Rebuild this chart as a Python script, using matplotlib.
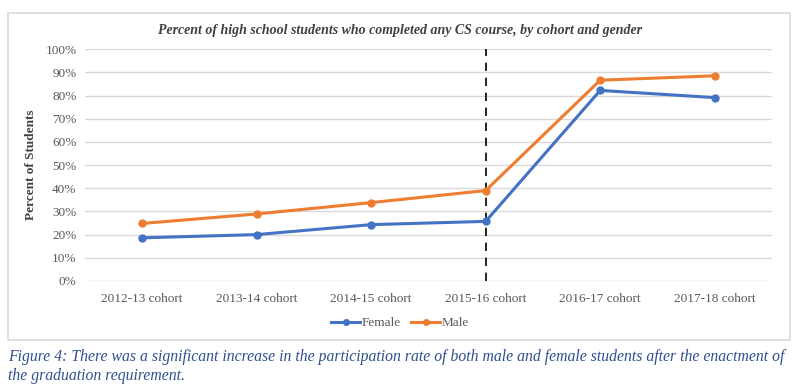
import matplotlib
matplotlib.use("Agg")
import matplotlib.pyplot as plt
from matplotlib.patches import Rectangle
from matplotlib.ticker import PercentFormatter

plt.rcParams['font.family'] = ['Liberation Serif', 'DejaVu Serif']

cohorts = ['2012-13 cohort', '2013-14 cohort', '2014-15 cohort',
           '2015-16 cohort', '2016-17 cohort', '2017-18 cohort']
female = [18.6, 20.0, 24.3, 25.7, 82.2, 79.1]
male = [24.8, 28.9, 33.8, 39.0, 86.6, 88.5]
requirement_cohort = '2015-16 cohort'

fig = plt.figure(figsize=(8, 3.87), dpi=100)

# chart frame like the spreadsheet export
fig.patches.append(Rectangle((0.01, 0.121), 0.9775, 0.845, transform=fig.transFigure,
                             facecolor='white', edgecolor='#D9D9D9', linewidth=1.2, zorder=-10))

ax = fig.add_axes([0.106, 0.274, 0.859, 0.599])
ax.patch.set_alpha(0)
x = list(range(len(cohorts)))
ax.plot(x, female, color='#4472C4', lw=2.2, marker='o', ms=5, label='Female', zorder=3)
ax.plot(x, male, color='#ED7D31', lw=2.2, marker='o', ms=5, label='Male', zorder=3)

xi = cohorts.index(requirement_cohort)
ax.plot([xi, xi], [0, 100], color='black', ls=(0, (5, 4)), lw=1.2, zorder=2)

ax.set_xlim(-0.5, len(cohorts) - 0.5)
ax.set_ylim(0, 100)
ax.set_yticks(range(0, 101, 10))
ax.yaxis.set_major_formatter(PercentFormatter(decimals=0))
ax.set_xticks(x)
ax.set_xticklabels(cohorts)
ax.tick_params(axis='both', length=0, labelsize=9.5, colors='#595959', pad=6)
ax.tick_params(axis='x', pad=9)
ax.grid(axis='y', color='#D9D9D9', lw=1)
ax.set_axisbelow(True)
for s in ax.spines.values():
    s.set_visible(False)

ax.set_ylabel('Percent of Students', fontsize=9.5, fontweight='bold', color='#404040', labelpad=6)

fig.text(0.5, 0.92, 'Percent of high school students who completed any CS course, by cohort and gender',
         ha='center', va='center', fontsize=10, fontweight='bold', style='italic', color='#404040')

fig.legend(loc='center', bbox_to_anchor=(0.5, 0.165), ncol=2, frameon=False,
           fontsize=9.5, handlelength=2.2, handletextpad=0.1, columnspacing=0.8,
           labelcolor='#595959', markerscale=0.8)

fig.text(0.01, 0.077, 'Figure 4: There was a significant increase in the participation rate of both male and female students after the enactment of',
         ha='left', va='center', fontsize=11.3, style='italic', color='#2E4F8F')
fig.text(0.01, 0.028, 'the graduation requirement.',
         ha='left', va='center', fontsize=11.3, style='italic', color='#2E4F8F')

fig.savefig('out.png', dpi=100)
